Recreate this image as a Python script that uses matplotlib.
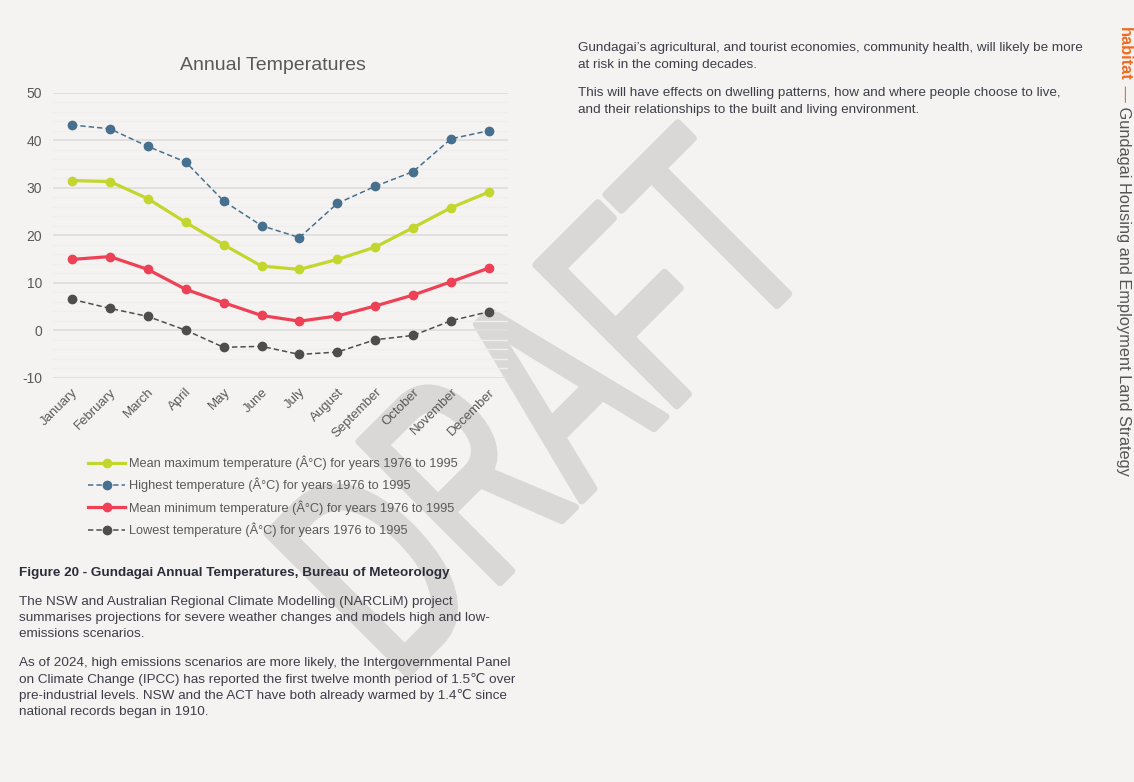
import numpy as np
import matplotlib
matplotlib.use("Agg")
import matplotlib.pyplot as plt
from matplotlib.text import Annotation
from matplotlib.textpath import TextPath
from matplotlib.patches import PathPatch
from matplotlib.font_manager import FontProperties
from matplotlib.transforms import Affine2D

plt.rcParams['font.family'] = ['Liberation Sans', 'DejaVu Sans']
plt.rcParams['axes.unicode_minus'] = False

# data
months = ['January', 'February', 'March', 'April', 'May', 'June', 'July',
          'August', 'September', 'October', 'November', 'December']
mean_max = [31.5, 31.3, 27.7, 22.7, 18.0, 13.5, 12.8, 14.9, 17.5, 21.6, 25.8, 29.1]
highest = [43.2, 42.4, 38.7, 35.4, 27.2, 22.0, 19.5, 26.7, 30.3, 33.4, 40.3, 42.0]
mean_min = [14.9, 15.5, 12.8, 8.6, 5.8, 3.1, 1.9, 3.0, 5.1, 7.4, 10.2, 13.1]
lowest = [6.5, 4.6, 2.9, 0.0, -3.6, -3.4, -5.1, -4.6, -2.0, -1.1, 2.0, 3.9]

series_labels = [
    'Mean maximum temperature (Â°C) for years 1976 to 1995',
    'Highest temperature (Â°C) for years 1976 to 1995',
    'Mean minimum temperature (Â°C) for years 1976 to 1995',
    'Lowest temperature (Â°C) for years 1976 to 1995',
]

# page copy, one entry per printed line
para1 = ['The NSW and Australian Regional Climate Modelling (NARCLiM) project',
         'summarises projections for severe weather changes and models high and low-',
         'emissions scenarios.']
para2 = ['As of 2024, high emissions scenarios are more likely, the Intergovernmental Panel',
         'on Climate Change (IPCC) has reported the first twelve month period of 1.5\u2103 over',
         'pre-industrial levels. NSW and the ACT have both already warmed by 1.4\u2103 since',
         'national records began in 1910.']
para3 = ['Gundagai\u2019s agricultural, and tourist economies, community health, will likely be more',
         'at risk in the coming decades.']
para4 = ['This will have effects on dwelling patterns, how and where people choose to live,',
         'and their relationships to the built and living environment.']

BG = '#f4f3f1'
GREY = '#595959'
TEXT = '#3d3e48'
WM = '#d9d8d6'
W, H = 1134, 782


def fx(px):
    return px / W


def fy(py):
    return 1 - py / H


def put_lines(lines, x0, y0, step=16.3):
    for i, line in enumerate(lines):
        fig.text(fx(x0), fy(y0 + i * step), line, fontsize=9.7, color=TEXT, va='center')


fig = plt.figure(figsize=(W / 100, H / 100), dpi=100, facecolor=BG)

# condensed "DRAFT" watermark, drawn as a path behind everything
wm_path = TextPath((0, 0), 'DRAFT', size=1, prop=FontProperties(family='Liberation Sans'))
# anchor the apex of the A (after "DR") on the page
wm_tr = (Affine2D().translate(-1.7775, -0.716).scale(180, 290)
         .rotate_deg(45).translate(477, H - 312))
wm = PathPatch(wm_path, transform=wm_tr, facecolor=WM, edgecolor=WM,
               lw=5, joinstyle='round', zorder=-5)
fig.add_artist(wm)

ax = fig.add_axes([fx(53), fy(377.7), 455 / W, 285 / H])
ax.set_facecolor('none')

x = np.arange(len(months))
l1, = ax.plot(x, mean_max, color='#c2d62e', lw=2.3, marker='o', ms=6, zorder=3)
l2, = ax.plot(x, highest, color='#47708e', lw=1.1, ls=(0, (3.5, 2)), marker='o', ms=6, zorder=3)
l3, = ax.plot(x, mean_min, color='#ee4156', lw=2.3, marker='o', ms=6, zorder=3)
l4, = ax.plot(x, lowest, color='#4d4d4d', lw=1.1, ls=(0, (3.5, 2)), marker='o', ms=6, zorder=3)

ax.set_xlim(-0.5, 11.5)
ax.set_ylim(-10, 50)
ax.set_yticks(range(-10, 51, 10))
ax.set_yticks(np.arange(-10, 51, 2), minor=True)
ax.set_xticks(x)
ax.set_xticklabels(months, rotation=45, ha='right', rotation_mode='anchor')
ax.tick_params(axis='y', which='both', length=0, pad=8, labelsize=10, labelcolor=GREY)
ax.tick_params(axis='x', length=0, pad=6, labelsize=9.5, labelcolor=GREY)
ax.grid(which='minor', axis='y', color='#efeeec', lw=1)
ax.grid(which='major', axis='y', color='#dfdedc', lw=1.3)
ax.set_axisbelow(True)
for s in ax.spines.values():
    s.set_visible(False)

fig.text(fx(272.5), fy(65), 'Annual Temperatures', ha='center', va='center',
         fontsize=14, color=GREY)

fig.legend([l1, l2, l3, l4], series_labels, loc='upper left',
           bbox_to_anchor=(fx(88), fy(455.5)), frameon=False, fontsize=9.2,
           handlelength=2.9, handletextpad=0.3, labelspacing=0.62,
           borderpad=0, borderaxespad=0, labelcolor=GREY, numpoints=1)

# page text
fig.text(fx(19), fy(573), 'Figure 20 - Gundagai Annual Temperatures, Bureau of Meteorology',
         fontsize=9.7, fontweight='bold', color='#2b2d3a', va='center')
put_lines(para1, 19, 601.7, 16.0)
put_lines(para2, 19, 662.7, 16.3)
put_lines(para3, 578, 48.3, 16.5)
put_lines(para4, 578, 93.3, 16.2)

# vertical running header
ORANGE = '#f26a21'
t1 = fig.text(fx(1124), fy(27), 'habitat', rotation=-90, ha='center', va='top',
              fontsize=11.8, fontweight='bold', color=ORANGE)
t2 = Annotation(' \u2014', xy=(0.5, 0), xycoords=t1, rotation=-90, ha='center',
                va='top', fontsize=11.8, color=ORANGE)
fig.add_artist(t2)
t3 = Annotation(' Gundagai Housing and Employment Land Strategy', xy=(0.5, 0),
                xycoords=t2, rotation=-90, ha='center', va='top', fontsize=11.8,
                color='#555555')
fig.add_artist(t3)

fig.savefig('out.png', dpi=100, facecolor=BG)
